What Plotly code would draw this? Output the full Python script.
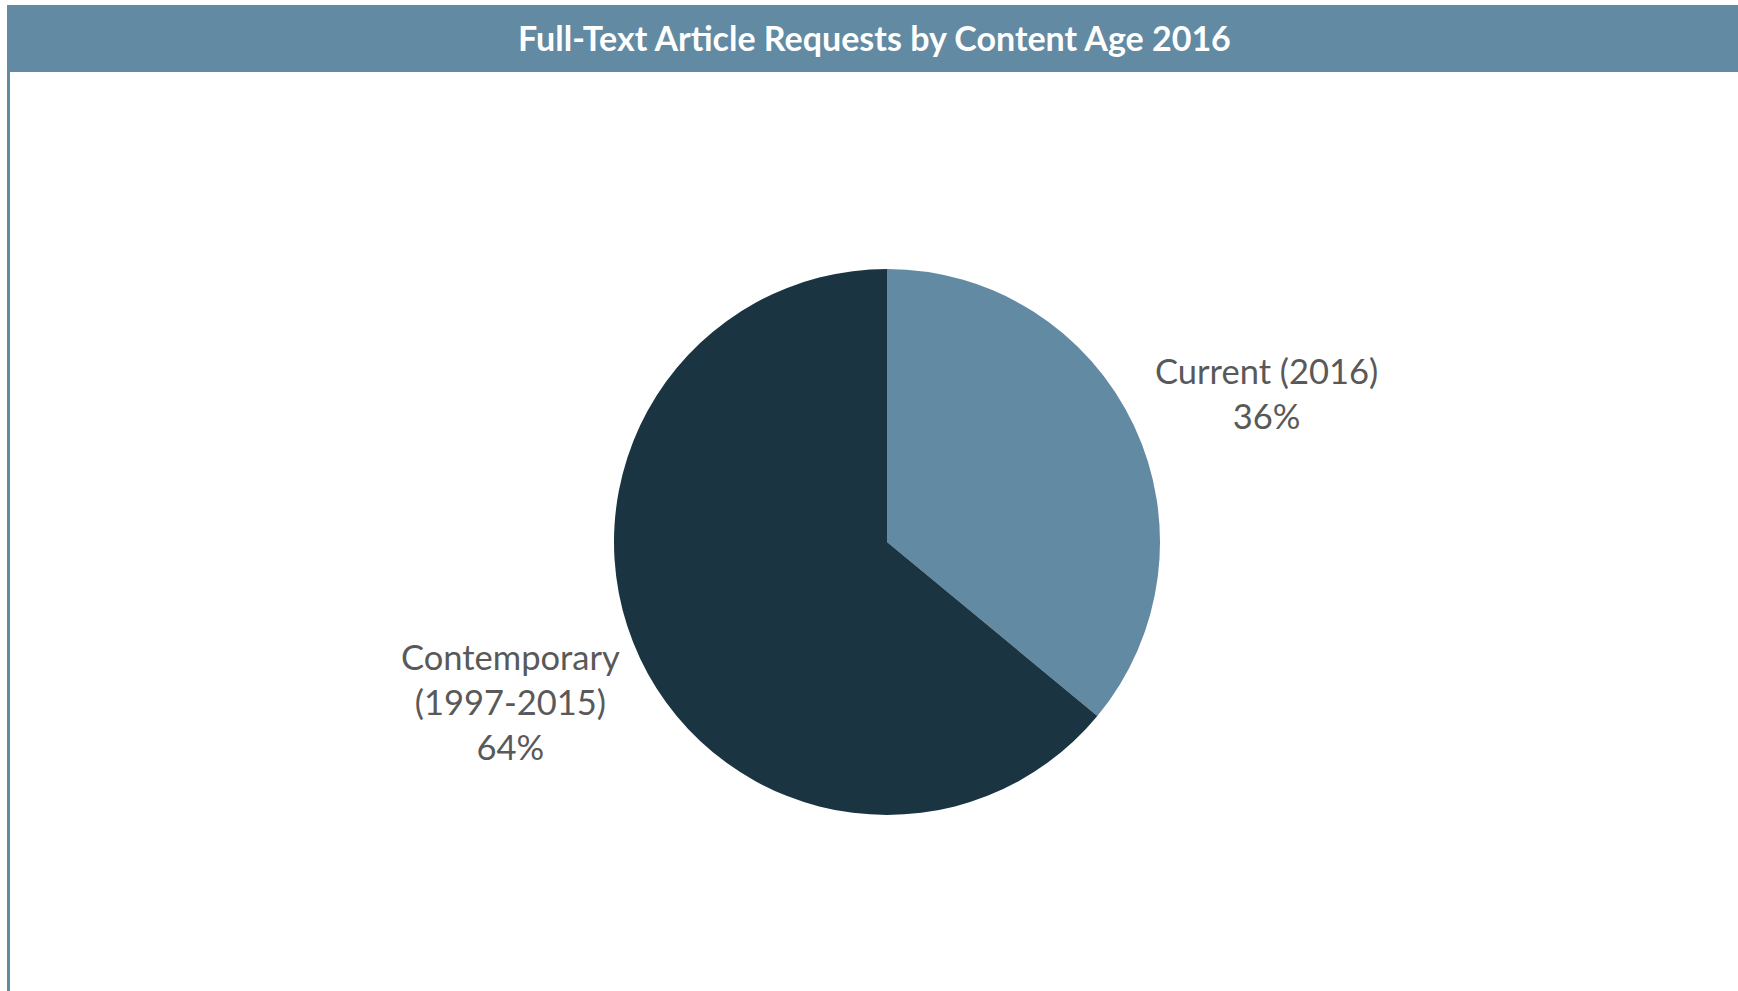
import plotly.graph_objects as go

# Request share by age of content
categories = ["Current (2016)", "Contemporary<br>(1997-2015)"]
shares = [36, 64]
colors = ["#628AA3", "#1A3541"]

W, H = 1738, 991
title = "Full-Text Article Requests by Content Age 2016"

fig = go.Figure()
fig.add_trace(go.Pie(
    labels=categories,
    values=shares,
    sort=False,
    direction="clockwise",
    rotation=0,
    marker=dict(colors=colors, line=dict(width=0)),
    textinfo="none",
    hoverinfo="label+percent",
    showlegend=False,
    domain=dict(x=[614 / W, 1160 / W], y=[1 - 815 / H, 1 - 269 / H]),
))

# Header band and left rule
fig.add_shape(type="rect", xref="paper", yref="paper",
              x0=7 / W, x1=1, y0=1 - 72 / H, y1=1 - 5 / H,
              fillcolor="#628AA3", line=dict(width=0), layer="below")
fig.add_shape(type="line", xref="paper", yref="paper",
              x0=8.5 / W, x1=8.5 / W, y0=0, y1=1 - 72 / H,
              line=dict(color="#628AA3", width=3))

fig.add_annotation(text="<b>" + title + "</b>", xref="paper", yref="paper",
                   x=874 / W, y=1 - 38 / H, xanchor="center", yanchor="middle",
                   showarrow=False,
                   font=dict(family="Lato", size=34, color="white"))

# Category labels with their shares
label_pos = [(1266, 393), (510, 701)]
for name, val, (px, py) in zip(categories, shares, label_pos):
    fig.add_annotation(text=f"{name}<br>{val}%", xref="paper", yref="paper",
                       x=px / W, y=1 - py / H, xanchor="center", yanchor="middle",
                       showarrow=False, align="center",
                       font=dict(family="Lato", size=34.5, color="#595959"))

fig.update_layout(width=W, height=H, margin=dict(l=0, r=0, t=0, b=0),
                  paper_bgcolor="white", plot_bgcolor="white")
fig.write_html("out.html")
